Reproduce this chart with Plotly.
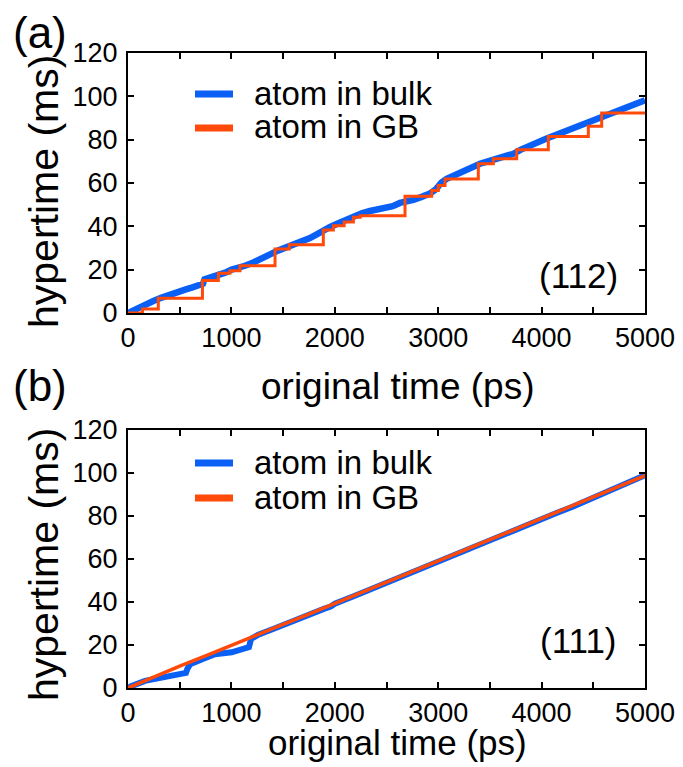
import plotly.graph_objects as go

# ---------------- data: panel (a), (112) ----------------
a_bulk_t = [0, 68, 148, 197, 245, 326, 406, 455, 567, 616, 696, 725, 740, 800, 874, 940,
            1002, 1051, 1131, 1212, 1260, 1320, 1389, 1450, 1535, 1600, 1696, 1760, 1830,
            1880, 1950, 2018, 2100, 2180, 2260, 2340, 2420, 2502, 2560, 2630, 2700, 2760,
            2840, 2921, 2980, 3030, 3082, 3160, 3243, 3320, 3404, 3480, 3566, 3650, 3727,
            3800, 3888, 3970, 4049, 4130, 4210, 4290, 4371, 4450, 4532, 4610, 4694, 4780,
            4855, 4930, 5000]
a_bulk_h = [0, 1.7, 3.3, 4.8, 5.5, 7.1, 8.6, 9.4, 11.0, 11.7, 13.0, 13.5, 15.5, 16.2, 17.5, 18.6,
            20.0, 20.4, 21.8, 23.3, 24.6, 26.0, 27.4, 28.8, 30.3, 31.3, 33.0, 34.6, 36.4,
            38.0, 39.6, 41.1, 43.0, 44.8, 46.0, 47.1, 47.8, 48.6, 49.3, 50.8, 51.4, 52.2,
            53.6, 55.2, 57.2, 60.2, 61.9, 63.8, 65.8, 67.4, 68.9, 70.0, 71.2, 72.4, 73.5,
            75.4, 77.4, 79.0, 80.5, 82.0, 83.5, 85.0, 86.6, 88.0, 89.7, 91.2, 92.8, 94.4,
            95.9, 97.0, 98.2]

a_gb_t = [0, 140, 293, 720, 874, 986, 1083, 1422, 1560, 1889, 1986, 2090, 2180, 2245,
          2679, 2937, 3001, 3066, 3388, 3533, 3759, 4065, 4452, 4581, 5000]
a_gb_h = [0, 1.9, 6.8, 15.0, 18.3, 19.5, 21.8, 29.5, 31.5, 38.3, 40.3, 42.0, 44.2, 44.9,
          53.9, 56.5, 58.8, 61.9, 68.9, 71.2, 75.4, 81.5, 86.2, 92.3, 92.5]

# ---------------- data: panel (b), (111) ----------------
b_bulk_t = [0, 35, 164, 293, 422, 560, 575, 600, 712, 841, 1002, 1131, 1170, 1190, 1260, 1422,
            1600, 1800, 1900, 1960, 2000, 2200, 2250, 2450, 2700, 2950, 3200, 3450, 3700,
            3950, 4150, 4300, 4380, 4420, 4600, 4800, 5000]
b_bulk_h = [0, 0.9, 3.3, 4.5, 5.6, 7.0, 9.0, 11.0, 13.3, 15.7, 16.6, 18.0, 19.0, 22.8, 24.8, 27.8,
            31.4, 35.2, 36.9, 37.9, 39.2, 43.0, 44.0, 48.1, 53.2, 58.0, 62.9, 67.8, 72.7,
            77.6, 81.5, 84.3, 85.9, 86.9, 90.7, 94.6, 99.0]

b_gb_t = [0, 250, 500, 750, 1000, 1250, 1500, 1750, 2000, 2250, 2500, 2750, 3000, 3250,
          3500, 3750, 4000, 4250, 4500, 4750, 5000]
b_gb_h = [0, 5.2, 10.2, 14.9, 19.9, 24.6, 29.6, 34.4, 39.4, 44.2, 49.2, 54.1, 59.2, 64.0,
          69.0, 73.9, 78.9, 83.8, 88.8, 93.7, 98.8]

x_ticks = [0, 1000, 2000, 3000, 4000, 5000]
y_ticks = [0, 20, 40, 60, 80, 100, 120]
panel_tags = ["(a)", "(b)"]
plane_tags = ["(112)", "(111)"]
series_names = ["atom in bulk", "atom in GB"]
x_title = "original time (ps)"
y_title = "hypertime (ms)"

BLUE = "#0a5ff5"
ORANGE = "#ff4a0a"
FONT = "Liberation Sans, Arial, sans-serif"

# page has an 8px body margin; figure laid out in reference pixel coordinates
OFF = 8
W, H = 667, 755


def px(x):
    return (x - OFF) / W


def py(y):
    return 1 - (y - OFF) / H


fig = go.Figure()
fig.add_trace(go.Scatter(x=a_bulk_t, y=a_bulk_h, mode="lines", line=dict(color=BLUE, width=6.5),
                         showlegend=False, xaxis="x", yaxis="y"))
fig.add_trace(go.Scatter(x=a_gb_t, y=a_gb_h, mode="lines", line=dict(color=ORANGE, width=3, shape="hv"),
                         showlegend=False, xaxis="x", yaxis="y"))
fig.add_trace(go.Scatter(x=b_bulk_t, y=b_bulk_h, mode="lines", line=dict(color=BLUE, width=6),
                         showlegend=False, xaxis="x2", yaxis="y2"))
fig.add_trace(go.Scatter(x=b_gb_t, y=b_gb_h, mode="lines", line=dict(color=ORANGE, width=3.5),
                         showlegend=False, xaxis="x2", yaxis="y2"))

x_dom = [px(128), px(645)]
ya_dom = [py(313), py(53)]
yb_dom = [py(688), py(430)]

tickfont = dict(size=27, color="black", family=FONT)


def xaxis(anchor):
    return dict(domain=x_dom, anchor=anchor, range=[0, 5000], tickvals=x_ticks,
                ticks="inside", ticklen=6, tickwidth=1.5, tickcolor="black",
                minor=dict(dtick=500, ticks="inside", ticklen=6, tickwidth=1.5, tickcolor="black"),
                showline=True, linecolor="black", linewidth=2, mirror="ticks",
                showgrid=False, zeroline=False, automargin=False, tickfont=tickfont,
                ticklabeloverflow="allow")


def yaxis(anchor, dom):
    return dict(domain=dom, anchor=anchor, range=[0, 120], tickvals=y_ticks,
                ticks="inside", ticklen=6, tickwidth=1.5, tickcolor="black",
                showline=True, linecolor="black", linewidth=2, mirror="ticks",
                showgrid=False, zeroline=False, automargin=False, tickfont=tickfont,
                ticklabelstandoff=3, ticklabeloverflow="allow")


annotations = []
shapes = []


def text(t, x, y, size, angle=0, xanchor="center"):
    annotations.append(dict(text=t, x=px(x), y=py(y), xref="paper", yref="paper",
                            xanchor=xanchor, yanchor="middle", textangle=angle,
                            showarrow=False, font=dict(size=size, color="black", family=FONT)))


# panel tags
text(panel_tags[0], 40, 33, 44)
text(panel_tags[1], 40, 385, 44)
# plane tags
text(plane_tags[0], 578, 275, 35)
text(plane_tags[1], 578, 640, 35)
# axis titles
text(y_title, 44, 192, 41, angle=-90)
text(y_title, 44, 565, 41, angle=-90)
text(x_title, 397, 386, 37)
text(x_title, 397, 742, 35)

# legends
for ys in [(94, 128), (463, 498)]:
    for name, col, yy in zip(series_names, [BLUE, ORANGE], ys):
        shapes.append(dict(type="line", xref="paper", yref="paper",
                           x0=px(195), x1=px(233), y0=py(yy), y1=py(yy),
                           line=dict(color=col, width=7)))
        text(name, 252, yy - 1, 33, xanchor="left")

fig.update_layout(
    width=W, height=H,
    margin=dict(l=0, r=0, t=0, b=0),
    paper_bgcolor="white", plot_bgcolor="white",
    font=dict(family=FONT, color="black"),
    showlegend=False,
    xaxis=xaxis("y"),
    yaxis=yaxis("x", ya_dom),
    xaxis2=xaxis("y2"),
    yaxis2=yaxis("x2", yb_dom),
    annotations=annotations,
    shapes=shapes,
)

fig.write_html("out.html")
